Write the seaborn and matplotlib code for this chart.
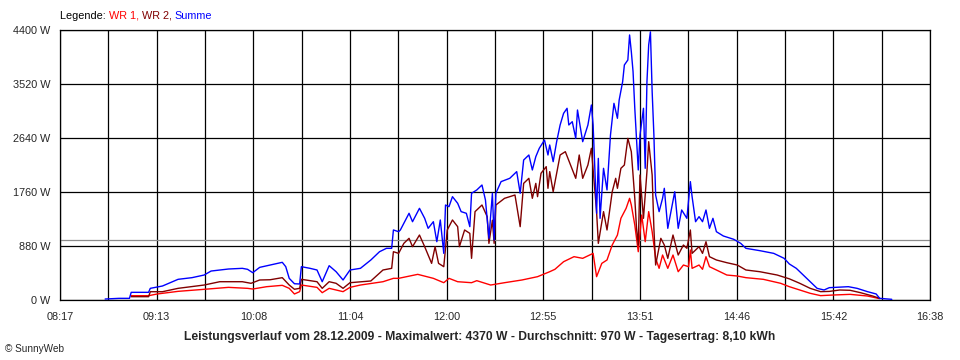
import pandas as pd
import matplotlib.pyplot as plt
import seaborn as sns

# WR 1 (red)
wr1_time = ["08:58", "09:08", "09:13", "09:25", "09:40", "09:54", "10:05", "10:08", "10:16", "10:25",
            "10:29", "10:32", "10:35", "10:36", "10:45", "10:48", "10:52", "11:00", "11:04", "11:10",
            "11:23", "11:29", "11:32", "11:43", "11:52", "11:58", "12:01", "12:06", "12:14", "12:17",
            "12:25", "12:33", "12:43", "12:52", "12:59", "13:02", "13:07", "13:13", "13:18", "13:24",
            "13:26", "13:29", "13:32", "13:35", "13:38", "13:40", "13:43", "13:45", "13:46", "13:48",
            "13:50", "13:52", "13:54", "13:56", "13:58", "14:00", "14:02", "14:04", "14:07", "14:10",
            "14:13", "14:16", "14:19", "14:20", "14:21", "14:25", "14:27", "14:29", "14:31", "14:35",
            "14:41", "14:47", "14:52", "15:02", "15:12", "15:17", "15:23", "15:29", "15:35", "15:42",
            "15:52", "16:02", "16:09"]
wr1_w = [70, 70, 98, 141, 174, 206, 190, 179, 217, 239,
         190, 98, 136, 244, 206, 119, 190, 136, 206, 244,
         298, 353, 353, 418, 353, 282, 353, 298, 282, 315,
         244, 282, 326, 380, 461, 500, 624, 706, 679, 760,
         380, 597, 652, 896, 1059, 1331, 1494, 1657, 1548, 1222,
         787, 1385, 950, 1440, 1113, 679, 516, 733, 516, 733,
         461, 570, 543, 815, 516, 570, 500, 706, 543, 489,
         407, 391, 364, 337, 272, 217, 163, 109, 71, 81,
         92, 65, 22]

# WR 2 (dark red)
wr2_time = ["08:58", "09:08", "09:09", "09:16", "09:25", "09:40", "09:49", "10:02", "10:07", "10:12",
            "10:18", "10:25", "10:29", "10:32", "10:35", "10:36", "10:45", "10:48", "10:52", "10:56",
            "11:00", "11:04", "11:16", "11:23", "11:28", "11:29", "11:32", "11:35", "11:38", "11:40",
            "11:44", "11:47", "11:51", "11:53", "11:55", "11:58", "12:00", "12:03", "12:06", "12:07",
            "12:10", "12:13", "12:14", "12:16", "12:20", "12:23", "12:24", "12:26", "12:27", "12:28",
            "12:33", "12:39", "12:42", "12:44", "12:47", "12:49", "12:51", "12:52", "12:54", "12:57",
            "12:58", "12:59", "13:01", "13:05", "13:08", "13:11", "13:14", "13:16", "13:18", "13:21",
            "13:23", "13:26", "13:27", "13:30", "13:32", "13:35", "13:37", "13:38", "13:40", "13:42",
            "13:44", "13:46", "13:48", "13:49", "13:50", "13:51", "13:53", "13:55", "13:56", "13:58",
            "13:59", "14:00", "14:03", "14:05", "14:07", "14:10", "14:13", "14:16", "14:18", "14:20",
            "14:21", "14:25", "14:27", "14:29", "14:31", "14:35", "14:41", "14:47", "14:52", "15:00",
            "15:10", "15:17", "15:23", "15:29", "15:35", "15:40", "15:46", "15:52", "15:58", "16:05",
            "16:09"]
wr2_w = [54, 54, 135, 135, 190, 244, 298, 298, 272, 326,
         330, 364, 244, 175, 190, 337, 298, 190, 298, 272,
         190, 282, 310, 489, 516, 787, 760, 923, 1005, 869,
         1059, 869, 597, 869, 597, 543, 1141, 1304, 1195, 869,
         1141, 1086, 679, 1440, 1548, 1358, 923, 1300, 923, 1548,
         1657, 1711, 1195, 1901, 1983, 1657, 1901, 1684, 2065, 2173,
         1820, 2092, 1765, 2363, 2417, 2200, 1983, 2363, 1983, 2200,
         2472, 1440, 923, 1440, 1141, 1765, 1983, 1820, 2146, 2200,
         2634, 2417, 1657, 1168, 896, 2037, 1331, 2092, 2580, 2037,
         1168, 570, 1005, 896, 679, 1059, 733, 896, 842, 1141,
         760, 869, 760, 950, 706, 652, 608, 570, 489, 461,
         407, 345, 272, 190, 136, 140, 163, 158, 119, 65,
         27]

# Summe (blue)
sum_time = ["08:43", "08:51", "08:57", "08:58", "09:08", "09:09", "09:16", "09:25", "09:33", "09:40",
            "09:44", "09:54", "10:02", "10:05", "10:08", "10:12", "10:18", "10:25", "10:27", "10:29",
            "10:32", "10:35", "10:36", "10:41", "10:45", "10:48", "10:52", "10:56", "11:00", "11:04",
            "11:10", "11:16", "11:21", "11:25", "11:28", "11:29", "11:32", "11:33", "11:38", "11:40",
            "11:44", "11:47", "11:49", "11:52", "11:54", "11:56", "11:58", "11:59", "12:01", "12:03",
            "12:06", "12:08", "12:11", "12:13", "12:14", "12:17", "12:20", "12:22", "12:24", "12:26",
            "12:27", "12:28", "12:31", "12:36", "12:40", "12:42", "12:44", "12:47", "12:49", "12:51",
            "12:53", "12:56", "12:58", "12:59", "13:01", "13:03", "13:05", "13:07", "13:09", "13:10",
            "13:12", "13:14", "13:15", "13:18", "13:21", "13:23", "13:24", "13:26", "13:27", "13:28",
            "13:30", "13:32", "13:34", "13:36", "13:38", "13:39", "13:41", "13:42", "13:44", "13:45",
            "13:46", "13:47", "13:48", "13:49", "13:50", "13:51", "13:53", "13:54", "13:55", "13:56",
            "13:57", "13:58", "13:59", "14:00", "14:02", "14:04", "14:05", "14:07", "14:11", "14:13",
            "14:15", "14:18", "14:20", "14:21", "14:23", "14:25", "14:27", "14:29", "14:31", "14:33",
            "14:35", "14:39", "14:45", "14:49", "14:52", "15:00", "15:08", "15:14", "15:17", "15:21",
            "15:25", "15:29", "15:33", "15:37", "15:40", "15:51", "15:56", "16:02", "16:07", "16:09",
            "16:16"]
sum_w = [16, 27, 27, 125, 125, 190, 228, 337, 364, 407,
         472, 505, 516, 500, 445, 532, 570, 614, 543, 353,
         265, 261, 543, 516, 489, 298, 559, 461, 326, 489,
         516, 652, 787, 842, 842, 1141, 1113, 1141, 1413, 1276,
         1494, 1331, 1168, 1276, 950, 1304, 760, 1548, 1521, 1684,
         1576, 1440, 1413, 1195, 1739, 1793, 1874, 1630, 1005, 1739,
         978, 1739, 1929, 1983, 2092, 1739, 2281, 2363, 2119, 2336,
         2472, 2607, 2363, 2526, 2254, 2580, 2852, 3042, 3124, 2852,
         2906, 2634, 3096, 2580, 2852, 3178, 2852, 1413, 2308, 1331,
         2146, 1793, 2689, 3205, 2961, 3259, 3557, 3830, 3911, 4319,
         4047, 3721, 3124, 2634, 2119, 2689, 3124, 2146, 3557, 4156,
         4370, 3395, 2689, 1711, 1440, 1657, 1820, 1168, 1765, 1168,
         1467, 1331, 1929, 1684, 1276, 1358, 1276, 1467, 1168, 1331,
         1113, 1043, 989, 923, 842, 804, 760, 679, 587, 516,
         407, 298, 190, 163, 201, 217, 190, 136, 98, 27,
         11]

avg_w = 970
y_ticks = [0, 880, 1760, 2640, 3520, 4400]
x_labels = ["08:17", "09:13", "10:08", "11:04", "12:00", "12:55", "13:51", "14:46", "15:42", "16:38"]


def to_min(times):
    return [int(t[:2]) * 60 + int(t[3:]) for t in times]


df = pd.concat([
    pd.DataFrame({"t": to_min(wr1_time), "w": wr1_w, "s": "WR 1"}),
    pd.DataFrame({"t": to_min(wr2_time), "w": wr2_w, "s": "WR 2"}),
    pd.DataFrame({"t": to_min(sum_time), "w": sum_w, "s": "Summe"}),
])
colors = {"WR 1": "#ff0000", "WR 2": "#800000", "Summe": "#0000ff"}

sns.set_style("white")
plt.rcParams["font.family"] = ["Liberation Sans", "DejaVu Sans"]

fig = plt.figure(figsize=(9.6, 3.6), dpi=100)
ax = fig.add_axes([60 / 960, 60 / 360, 870 / 960, 270 / 360])

t0 = to_min(["08:17"])[0]
t1 = to_min(["16:38"])[0]
step = (t1 - t0) / 18
grid_x = [t0 + i * step for i in range(19)]

for y in y_ticks:
    ax.axhline(y, color="black", lw=0.9, zorder=1)
for x in grid_x:
    ax.axvline(x, color="black", lw=0.9, zorder=1)
ax.axhline(avg_w, color="#8c8c8c", lw=0.9, zorder=1)

sns.lineplot(data=df, x="t", y="w", hue="s", palette=colors, hue_order=["WR 1", "WR 2", "Summe"],
             lw=1.0, legend=False, ax=ax, zorder=3, estimator=None)

ax.set_xlim(t0, t1)
ax.set_ylim(0, 4400)
ax.set_xticks(grid_x)
ax.set_xticklabels([x_labels[i // 2] if i % 2 == 0 else "" for i in range(19)])
ax.set_yticks(y_ticks)
ax.set_yticklabels([f"{v} W" for v in y_ticks])
ax.tick_params(axis="both", length=4, width=0.9, color="black", labelsize=7.8, pad=3)
ax.tick_params(axis="x", pad=5)
ax.set_xlabel("")
ax.set_ylabel("")
for sp in ax.spines.values():
    sp.set_color("black")
    sp.set_linewidth(0.9)

# colored legend line at the top
txt = fig.text(60 / 960, 1 - 16 / 360, "Legende: ", fontsize=7.8, color="black", va="center")
for label, name in [("WR 1, ", "WR 1"), ("WR 2, ", "WR 2"), ("Summe", "Summe")]:
    txt = ax.annotate(label, xy=(1, 0), xycoords=txt, va="bottom", ha="left",
                      fontsize=7.8, color=colors[name])

fig.text(0.4995, 1 - 337 / 360,
         "Leistungsverlauf vom 28.12.2009 - Maximalwert: 4370 W - Durchschnitt: 970 W - Tagesertrag: 8,10 kWh",
         fontsize=8.7, fontweight="bold", ha="center", va="center")
fig.text(5 / 960, 1 - 349 / 360, "© SunnyWeb", fontsize=7.2, va="center")

fig.savefig("out.png", dpi=100)
